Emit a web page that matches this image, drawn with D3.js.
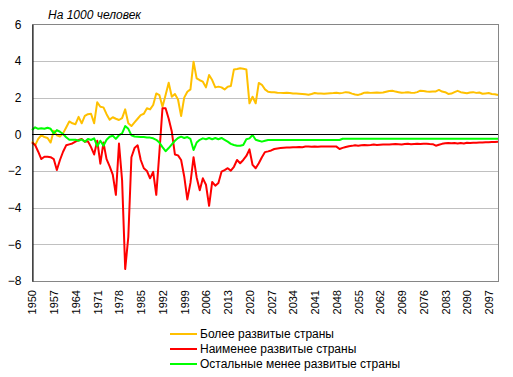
<!DOCTYPE html>
<html>
<head>
<meta charset="utf-8">
<script src="https://cdn.jsdelivr.net/npm/d3@7"></script>
<style>
  body { margin: 0; background: #fff; }
  svg { font-family: "Liberation Sans", Arial, sans-serif; }
  .y.axis text { font-size: 12px; fill: #000; }
  .x.axis text { font-size: 11px; fill: #000; }
  .legend text { font-size: 12px; fill: #000; }
  .title { font-size: 12px; font-style: italic; }
</style>
</head>
<body>
<svg width="513" height="377"></svg>
<script>
// net migration, per 1000 people, 1950..2100
var years = d3.range(1950, 2101);

var moreDeveloped = [
  -0.38, -0.6, -0.25, -0.05, -0.15, -0.2, -0.45, 0.2, -0.05, -0.12,
  0.05, 0.37, 0.7, 0.6, 0.55, 0.95, 0.6, 1.0, 1.1, 1.12,
  0.6, 1.75, 1.5, 1.47, 1.1, 0.8, 0.93, 0.85, 0.78, 0.88,
  1.36, 0.6, 0.45, 0.65, 0.85, 1.05, 1.12, 1.42, 1.36, 1.6,
  2.23, 2.14, 1.5, 2.14, 2.81, 2.05, 2.2, 1.9, 1.0, 2.0,
  2.32, 2.45, 3.96, 3.05, 2.95, 2.87, 2.56, 3.23, 2.96, 2.56,
  2.6, 2.56, 2.45, 2.6, 2.63, 3.54, 3.56, 3.6, 3.58, 3.54,
  1.69, 2.05, 1.69, 2.8, 2.7, 2.45, 2.32, 2.3, 2.3, 2.27,
  2.26, 2.25, 2.27, 2.25, 2.22, 2.22, 2.21, 2.2, 2.18, 2.16,
  2.2, 2.25, 2.23, 2.22, 2.21, 2.23, 2.24, 2.25, 2.27, 2.24,
  2.26, 2.3, 2.28, 2.22, 2.17, 2.15, 2.2, 2.27, 2.28, 2.26,
  2.27, 2.28, 2.27, 2.28, 2.32, 2.36, 2.38, 2.33, 2.3, 2.27,
  2.28, 2.3, 2.27, 2.26, 2.3, 2.38, 2.36, 2.33, 2.32, 2.33,
  2.34, 2.42, 2.33, 2.3, 2.2, 2.22, 2.3, 2.37, 2.3, 2.27,
  2.24, 2.28, 2.3, 2.26, 2.28, 2.21, 2.23, 2.25, 2.2, 2.18, 2.14
];

var leastDeveloped = [
  -0.45, -0.58, -0.95, -1.35, -1.22, -1.22, -1.25, -1.35, -1.95, -1.4,
  -0.95, -0.6, -0.55, -0.5, -0.4, -0.31, -0.25, -0.4, -0.38, -0.7,
  -1.1, -0.35, -1.6, -0.45, -1.35, -1.75, -2.2, -3.3, -0.5, -2.5,
  -7.35, -5.6, -1.25, -0.75, -0.6, -1.4, -1.85, -2.0, -2.4, -2.05,
  -3.3, -1.0, 1.42, 1.42, 0.85, 0.15, -1.1, -1.15, -1.4, -2.3,
  -3.55, -2.65, -1.25, -2.35, -3.05, -2.4, -2.75, -3.9, -2.6, -2.8,
  -2.65, -2.04, -1.95, -1.85, -1.98, -1.77, -1.4, -1.58, -1.4, -1.18,
  -0.82, -1.67, -1.85, -1.58, -1.25, -0.97, -0.93, -0.88, -0.8, -0.77,
  -0.75, -0.73, -0.72, -0.72, -0.7, -0.71, -0.69, -0.7, -0.67, -0.66,
  -0.68, -0.67, -0.68, -0.66, -0.67, -0.66, -0.67, -0.66, -0.67, -0.8,
  -0.74, -0.69, -0.65, -0.63, -0.6, -0.62, -0.6, -0.58, -0.59, -0.58,
  -0.56, -0.58, -0.57, -0.56, -0.55, -0.56, -0.54, -0.53, -0.54, -0.55,
  -0.53, -0.52, -0.54, -0.53, -0.52, -0.53, -0.52, -0.51, -0.53, -0.54,
  -0.62, -0.57, -0.52, -0.49, -0.47, -0.49, -0.48, -0.5, -0.47, -0.5,
  -0.46, -0.47, -0.46, -0.46, -0.45, -0.45, -0.43, -0.43, -0.42, -0.42, -0.41
];

var otherLessDeveloped = [
  0.23, 0.38, 0.3, 0.33, 0.3, 0.36, 0.3, 0.05, 0.23, 0.14,
  0.02, -0.16, -0.3, -0.3, -0.3, -0.35, -0.28, -0.4, -0.25, -0.31,
  -0.22, -0.65, -0.35, -0.62, -0.3, -0.13, -0.08, -0.25, -0.05, 0.05,
  0.45, 0.3, -0.05, -0.12, -0.13, -0.15, -0.15, -0.17, -0.18, -0.22,
  -0.3, -0.45, -0.7, -0.92, -0.75, -0.55, -0.35, -0.2, -0.13, -0.2,
  -0.15, -0.25, -0.86, -0.45, -0.3, -0.22, -0.27, -0.2, -0.27, -0.2,
  -0.27, -0.2, -0.3, -0.4, -0.52, -0.58, -0.62, -0.62, -0.58, -0.27,
  -0.22, -0.04, -0.3, -0.35, -0.4, -0.35, -0.31, -0.31, -0.31, -0.31,
  -0.31, -0.31, -0.31, -0.31, -0.31, -0.31, -0.31, -0.31, -0.31, -0.31,
  -0.31, -0.31, -0.31, -0.31, -0.31, -0.31, -0.31, -0.31, -0.31, -0.31,
  -0.24, -0.24, -0.24, -0.24, -0.24, -0.24, -0.24, -0.24, -0.24, -0.24,
  -0.24, -0.24, -0.24, -0.24, -0.24, -0.24, -0.24, -0.24, -0.24, -0.24,
  -0.24, -0.24, -0.24, -0.24, -0.24, -0.24, -0.24, -0.24, -0.24, -0.24,
  -0.24, -0.24, -0.24, -0.24, -0.24, -0.24, -0.24, -0.24, -0.24, -0.24,
  -0.24, -0.24, -0.24, -0.24, -0.24, -0.24, -0.24, -0.24, -0.24, -0.24, -0.24
];

var seriesNames = ['Более развитые страны', 'Наименее развитые страны', 'Остальные менее развитые страны'];
var seriesColors = ['#FFC000', '#FF0000', '#00FF00'];
var yTicks = [-8, -6, -4, -2, 0, 2, 4, 6];
var xTicks = d3.range(1950, 2101, 7);

var svg = d3.select('svg');

var x = d3.scaleLinear().domain([1950, 2100]).range([32, 498]);
var y = d3.scaleLinear().domain([-8, 6]).range([281, 24.3]);

// grid
svg.append('g').selectAll('line')
    .data(yTicks.filter(function(d) { return d != 0 && d != 6 && d != -8; }))
    .enter().append('line')
    .attr('x1', 32).attr('x2', 498)
    .attr('y1', function(d) { return Math.round(y(d)) + 0.5; })
    .attr('y2', function(d) { return Math.round(y(d)) + 0.5; })
    .attr('stroke', '#C0C0C0');

// plot border
svg.append('rect')
    .attr('x', 32.5).attr('y', Math.round(y(6)) + 0.5)
    .attr('width', 466).attr('height', Math.round(y(-8)) - Math.round(y(6)))
    .attr('fill', 'none').attr('stroke', '#868686');

// lines
var line = d3.line()
    .x(function(d, i) { return x(years[i]); })
    .y(function(d) { return y(d); });

[moreDeveloped, leastDeveloped, otherLessDeveloped].forEach(function(s, k) {
    svg.append('path')
        .datum(s)
        .attr('d', line)
        .attr('fill', 'none')
        .attr('stroke', seriesColors[k])
        .attr('stroke-width', 2)
        .attr('stroke-linejoin', 'round');
});

// zero line and left axis
svg.append('line')
    .attr('x1', 32).attr('x2', 498)
    .attr('y1', Math.round(y(0)) + 0.5).attr('y2', Math.round(y(0)) + 0.5)
    .attr('stroke', '#000');

var yAxis = svg.append('g').attr('class', 'y axis')
    .attr('transform', 'translate(32.5,0)')
    .call(d3.axisLeft(y).tickValues(yTicks).tickSize(0).tickPadding(11));
yAxis.select('.domain').attr('stroke', '#000');

var xAxis = svg.append('g').attr('class', 'x axis')
    .attr('transform', 'translate(0,' + y(-8) + ')')
    .call(d3.axisBottom(x).tickValues(xTicks).tickSize(0).tickFormat(d3.format('d')));
xAxis.select('.domain').remove();
xAxis.selectAll('text')
    .attr('transform', 'rotate(-90)')
    .attr('x', -9).attr('y', 0).attr('dy', '0.35em')
    .style('text-anchor', 'end');

svg.append('text')
    .attr('class', 'title')
    .attr('x', 48).attr('y', 19)
    .text('На 1000 человек');

// legend
var legend = svg.append('g').attr('class', 'legend');
seriesNames.forEach(function(name, i) {
    var ly = 334 + i * 15;
    legend.append('line')
        .attr('x1', 170).attr('x2', 197)
        .attr('y1', ly).attr('y2', ly)
        .attr('stroke', seriesColors[i]).attr('stroke-width', 2);
    legend.append('text')
        .attr('x', 200).attr('y', ly).attr('dy', '0.35em')
        .text(name);
});
</script>
</body>
</html>
